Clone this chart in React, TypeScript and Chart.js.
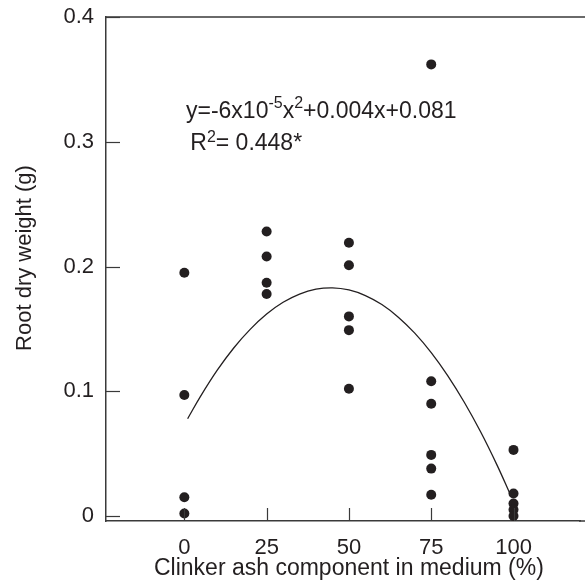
import React, { useEffect, useRef } from "react";
import { Chart, registerables } from "chart.js";
Chart.register(...registerables);

const xTickValues = [0, 25, 50, 75, 100];
const yTickValues = [0, 0.1, 0.2, 0.3, 0.4];
const ashPct = [0, 0, 0, 0, 25, 25, 25, 25, 50, 50, 50, 50, 50, 75, 75, 75, 75, 75, 75, 100, 100, 100, 100, 100];
const rootWeight = [0.195, 0.097, 0.015, 0.002, 0.228, 0.208, 0.187, 0.178, 0.219, 0.201, 0.16, 0.149, 0.102, 0.362, 0.108, 0.09, 0.049, 0.038, 0.017, 0.053, 0.018, 0.01, 0.005, 0];
const curveX = [1, 5, 10, 15, 20, 25, 30, 35, 40, 45, 50, 55, 60, 65, 70, 75, 80, 85, 90, 95, 99];
const curveY = [0.078, 0.0963, 0.1169, 0.1347, 0.1496, 0.1619, 0.1713, 0.1779, 0.1818, 0.1829, 0.1812, 0.1767, 0.1695, 0.1594, 0.1466, 0.131, 0.1126, 0.0914, 0.0675, 0.0408, 0.0174];
const xTitle = "Clinker ash component in medium (%)";
const yTitle = "Root dry weight (g)";
const eqLine1: [string, boolean][] = [["y=-6x10", false], ["-5", true], ["x", false], ["2", true], ["+0.004x+0.081", false]];
const eqLine2: [string, boolean][] = [["R", false], ["2", true], ["= 0.448*", false]];
const eqAnchor1 = { x: 0.5, y: 0.3187 };
const eqAnchor2 = { x: 1.8, y: 0.293 };

const FONT = "'Liberation Sans', Arial, Helvetica, sans-serif";
const INK = "#231f20";
const AXIS = "#3a3a3a";

const decorPlugin = {
  id: "decor",
  afterDraw(chart: any) {
    const { ctx, scales } = chart;
    const xs = scales.x;
    const ys = scales.y;
    const left = ys.right;
    const bottom = xs.top;
    const top = ys.top;
    ctx.save();
    ctx.strokeStyle = AXIS;
    ctx.lineWidth = 1.5;
    // top frame line and bottom axis running to the canvas edge
    ctx.beginPath();
    ctx.moveTo(left, top);
    ctx.lineTo(chart.width, top);
    ctx.moveTo(xs.right - 1, bottom);
    ctx.lineTo(chart.width, bottom);
    ctx.stroke();
    // inward ticks
    ctx.lineWidth = 1.2;
    for (const v of yTickValues) {
      const py = Math.round(ys.getPixelForValue(v)) + 0.5;
      ctx.beginPath();
      ctx.moveTo(left, py);
      ctx.lineTo(left + 14, py);
      ctx.stroke();
    }
    for (const v of xTickValues) {
      const px = Math.round(xs.getPixelForValue(v)) + 0.5;
      ctx.beginPath();
      ctx.moveTo(px, bottom);
      ctx.lineTo(px, bottom - 13);
      ctx.stroke();
    }
    ctx.restore();
    // axis titles
    ctx.save();
    ctx.fillStyle = INK;
    ctx.font = `23px ${FONT}`;
    ctx.textAlign = "center";
    ctx.textBaseline = "alphabetic";
    ctx.fillText(xTitle, xs.getPixelForValue(50), chart.height - 6);
    ctx.translate(31, (top + bottom) / 2 - 11);
    ctx.rotate(-Math.PI / 2);
    ctx.font = `22px ${FONT}`;
    ctx.fillText(yTitle, 0, 0);
    ctx.restore();
    // regression equation
    const drawPieces = (pieces: [string, boolean][], anchor: { x: number; y: number }, supRaise: number) => {
      let px = xs.getPixelForValue(anchor.x);
      const py = ys.getPixelForValue(anchor.y);
      ctx.save();
      ctx.fillStyle = INK;
      ctx.textBaseline = "alphabetic";
      ctx.textAlign = "left";
      for (const [t, sup] of pieces) {
        ctx.font = sup ? `16px ${FONT}` : `23px ${FONT}`;
        ctx.fillText(t, px, sup ? py - supRaise : py);
        px += ctx.measureText(t).width;
      }
      ctx.restore();
    };
    drawPieces(eqLine1, eqAnchor1, 10);
    drawPieces(eqLine2, eqAnchor2, 8);
  },
};

export default function App() {
  const ref = useRef<HTMLCanvasElement>(null);
  useEffect(() => {
    if (!ref.current) return;
    const chart = new Chart(ref.current, {
      type: "scatter",
      data: {
        datasets: [
          {
            type: "scatter",
            label: "data",
            data: ashPct.map((x, i) => ({ x, y: rootWeight[i] })),
            backgroundColor: INK,
            borderColor: INK,
            pointRadius: 5,
            pointHoverRadius: 5,
            borderWidth: 0,
          },
          {
            type: "line",
            label: "fit",
            data: curveX.map((x, i) => ({ x, y: curveY[i] })),
            borderColor: INK,
            borderWidth: 1.3,
            pointRadius: 0,
            tension: 0.4,
            fill: false,
          } as any,
        ],
      },
      options: {
        animation: false,
        responsive: false,
        maintainAspectRatio: false,
        layout: { padding: { top: 17, left: 0, right: 0, bottom: 0 } },
        plugins: { legend: { display: false }, tooltip: { enabled: false } },
        scales: {
          x: {
            type: "linear",
            min: -23.8,
            max: 120.2,
            afterBuildTicks: (s: any) => {
              s.ticks = xTickValues.map((v) => ({ value: v }));
            },
            afterFit: (s: any) => {
              s.height = 60;
              s.paddingLeft = 0;
              s.paddingRight = 0;
              s.paddingTop = 0;
              s.paddingBottom = 0;
            },
            grid: { display: false, drawTicks: false },
            border: { display: true, color: AXIS, width: 1.5 },
            ticks: {
              color: INK,
              padding: 14,
              font: { family: FONT, size: 22 },
              maxRotation: 0,
              callback: (v: any) => String(v),
            },
            title: { display: false },
          },
          y: {
            type: "linear",
            min: -0.004,
            max: 0.4,
            afterBuildTicks: (s: any) => {
              s.ticks = yTickValues.map((v) => ({ value: v }));
            },
            afterFit: (s: any) => {
              s.width = 106;
              s.paddingLeft = 0;
              s.paddingRight = 0;
              s.paddingTop = 0;
              s.paddingBottom = 0;
            },
            grid: { display: false, drawTicks: false },
            border: { display: true, color: AXIS, width: 1.5 },
            ticks: {
              color: INK,
              padding: 12,
              font: { family: FONT, size: 22 },
              callback: (v: any) => (v === 0 ? "0" : Number(v).toFixed(1)),
            },
            title: { display: false },
          },
        },
      },
      plugins: [decorPlugin],
    });
    return () => chart.destroy();
  }, []);
  return (
    <div style={{ position: "fixed", left: 0, top: 0, width: 585, height: 581, background: "#fff" }}>
      <canvas ref={ref} width={585} height={581} style={{ width: 585, height: 581, display: "block" }} />
    </div>
  );
}
